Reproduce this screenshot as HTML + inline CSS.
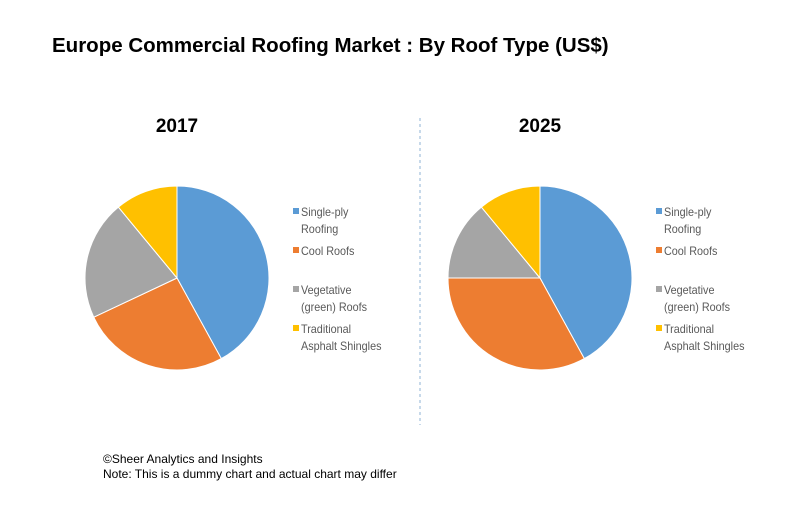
<!DOCTYPE html>
<html><head><meta charset="utf-8"><style>
body{margin:0;background:#fff;font-family:"Liberation Sans",Arial,sans-serif}
#c{position:relative;width:795px;height:525px;overflow:hidden}
</style></head><body>
<div id="c">
<svg width="795" height="525" id="svg">
<text x="52" y="52" font-size="20.5" font-weight="bold" fill="#000">Europe Commercial Roofing Market : By Roof Type (US$)</text>
<line x1="420" y1="118" x2="420" y2="425" stroke="#8fb3d6" stroke-width="1" stroke-dasharray="3,3"/>
<text x="103" y="463" font-size="12" fill="#000">©Sheer Analytics and Insights</text>
<text x="103" y="478" font-size="12" fill="#000">Note: This is a dummy chart and actual chart may differ</text>
</svg>
</div>
<script>
const categories=["Single-ply Roofing","Cool Roofs","Vegetative (green) Roofs","Traditional Asphalt Shingles"];
const legendLines=[["Single-ply","Roofing"],["Cool Roofs"],["Vegetative","(green) Roofs"],["Traditional","Asphalt Shingles"]];
const years=["2017","2025"];
const values2017=[42,26,21,11];
const values2025=[42,33,14,11];
const colors=["#5b9bd5","#ed7d31","#a5a5a5","#ffc000"];
const svg=document.getElementById('svg');
const NS="http://www.w3.org/2000/svg";
function mk(t,a){const e=document.createElementNS(NS,t);for(const k in a)e.setAttribute(k,a[k]);svg.appendChild(e);return e;}
function pie(vals,cx,cy,r,year,lx){
  const yt=mk('text',{x:cx,y:132,'font-size':19,'font-weight':'bold','text-anchor':'middle',fill:'#000'});
  yt.textContent=year;
  
  
  const tot=vals.reduce((a,b)=>a+b,0);let a0=0;
  vals.forEach((v,i)=>{
    const a1=a0+v/tot*2*Math.PI;
    const x0=cx+r*Math.sin(a0),y0=cy-r*Math.cos(a0),x1=cx+r*Math.sin(a1),y1=cy-r*Math.cos(a1);
    const p=mk('path',{d:`M${cx},${cy}L${x0},${y0}A${r},${r} 0 ${a1-a0>Math.PI?1:0} 1 ${x1},${y1}Z`,fill:colors[i],stroke:'#fff','stroke-width':1});
    
    
    a0=a1;
  });
  const ys=[216,255,294,333];
  legendLines.forEach((ls,i)=>{
    const s=mk('rect',{x:lx,y:ys[i]-8,width:6,height:6,fill:colors[i]});
    
    
    ls.forEach((l,j)=>{
      const t=mk('text',{x:lx+8,y:ys[i]+j*17,'font-size':11.5,fill:'#595959',transform:`translate(${(lx+8)*0.06},0) scale(0.94,1)`});
      t.textContent=l;
      
      
    });
  });
}
pie(values2017,177,278,92,years[0],293);
pie(values2025,540,278,92,years[1],656);
</script>
</body></html>
